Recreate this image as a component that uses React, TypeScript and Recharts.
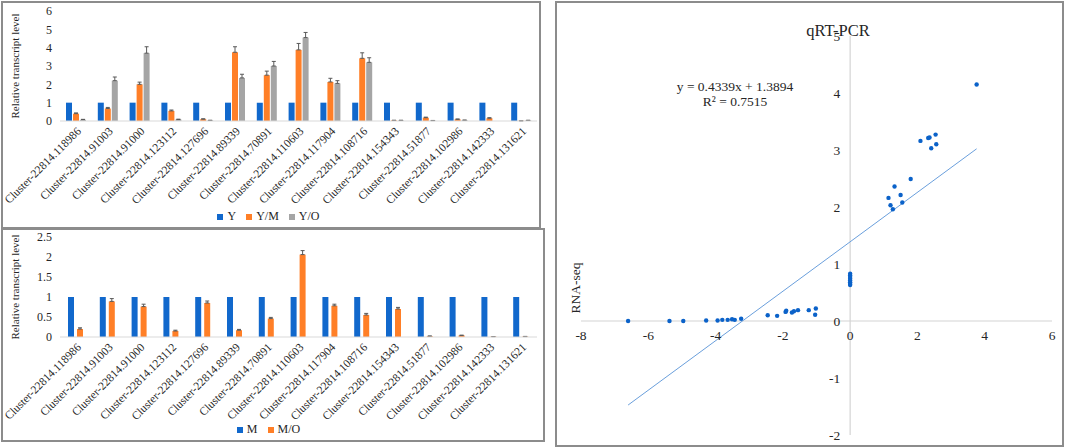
import React from 'react'
import {
  BarChart,
  Bar,
  XAxis,
  YAxis,
  ErrorBar,
  Legend,
  ScatterChart,
  Scatter,
  ReferenceLine,
  ReferenceDot,
} from 'recharts'

const categories = [
  'Cluster-22814.118986',
  'Cluster-22814.91003',
  'Cluster-22814.91000',
  'Cluster-22814.123112',
  'Cluster-22814.127696',
  'Cluster-22814.89339',
  'Cluster-22814.70891',
  'Cluster-22814.110603',
  'Cluster-22814.117904',
  'Cluster-22814.108716',
  'Cluster-22814.154343',
  'Cluster-22814.51877',
  'Cluster-22814.102986',
  'Cluster-22814.142333',
  'Cluster-22814.131621',
]

// top panel: Y, Y/M, Y/O
const yLevels = [1, 1, 1, 1, 1, 1, 1, 1, 1, 1, 1, 1, 1, 1, 1]
const ymLevels = [0.4, 0.68, 2.0, 0.55, 0.1, 3.75, 2.5, 3.88, 2.13, 3.42, 0.03, 0.18, 0.09, 0.15, 0.01]
const ymErrors = [0.04, 0.06, 0.12, 0.05, 0.02, 0.3, 0.22, 0.35, 0.2, 0.3, 0.01, 0.03, 0.02, 0.03, 0]
const yoLevels = [0.07, 2.2, 3.7, 0.08, 0.03, 2.35, 3.0, 4.55, 2.05, 3.2, 0.03, 0.02, 0.04, 0, 0.03]
const yoErrors = [0.02, 0.2, 0.35, 0.02, 0.01, 0.2, 0.25, 0.28, 0.15, 0.25, 0.01, 0.01, 0.01, 0, 0.01]
const topTicks = [0, 1, 2, 3, 4, 5, 6]

// bottom panel: M, M/O
const mLevels = [1, 1, 1, 1, 1, 1, 1, 1, 1, 1, 1, 1, 1, 1, 1]
const moLevels = [0.2, 0.89, 0.76, 0.15, 0.85, 0.17, 0.46, 2.06, 0.78, 0.55, 0.7, 0.02, 0.04, 0.01, 0.01]
const moErrors = [0.03, 0.07, 0.06, 0.02, 0.05, 0.02, 0.03, 0.1, 0.04, 0.04, 0.04, 0.005, 0.005, 0, 0.005]
const bottomTicks = [0, 0.5, 1, 1.5, 2, 2.5]

// scatter: RNA-seq (x) vs qRT-PCR (y)
const rnaSeq = [
  -6.6, -5.37, -4.96, -4.28, -3.94, -3.8, -3.64, -3.51, -3.43, -3.24,
  -2.45, -2.17, -1.92, -1.9, -1.73, -1.67, -1.55, -1.23, -1.02, -1.04,
  0, 0, 0, 0, 0, 0, 0, 0,
  1.14, 1.2, 1.27, 1.32, 1.5, 1.55, 1.8, 2.09, 2.32, 2.36, 2.41, 2.54, 2.56, 3.76,
]
const qrtPcr = [
  0, 0, 0, 0.01, 0.01, 0.02, 0.02, 0.03, 0.02, 0.04,
  0.1, 0.09, 0.16, 0.18, 0.15, 0.17, 0.19, 0.19, 0.22, 0.11,
  0.83, 0.8, 0.77, 0.74, 0.71, 0.68, 0.65, 0.63,
  2.16, 2.03, 1.96, 2.36, 2.21, 2.08, 2.49, 3.16, 3.21, 3.22, 3.03, 3.27, 3.1, 4.15,
]
const xTicks = [-8, -6, -4, -2, 0, 2, 4, 6]
const yTicks = [-2, -1, 0, 1, 2, 3, 4, 5]
const slope = 0.4339
const intercept = 1.3894

const BLUE = '#1168cc'
const ORANGE = '#ff7f27'
const GRAY = '#a5a5a5'
const TEXT = '#262626'
const SERIF = '"Liberation Serif", "Times New Roman", Tinos, "DejaVu Serif", serif'

const topData = categories.map((name, i) => ({
  name,
  Y: yLevels[i],
  'Y/M': ymLevels[i],
  'Y/O': yoLevels[i],
  ymErr: [0, ymErrors[i]],
  yoErr: [0, yoErrors[i]],
}))

const bottomData = categories.map((name, i) => ({
  name,
  M: mLevels[i],
  'M/O': moLevels[i],
  moErr: [0, moErrors[i]],
}))

const points = rnaSeq.map((x, i) => ({ x, y: qrtPcr[i] }))
const trendStart = rnaSeq[0]
const trendEnd = rnaSeq[rnaSeq.length - 1]

function CategoryTick({ x, y, payload }: any) {
  return (
    <g transform={`translate(${x + 3},${y})`}>
      <text
        textAnchor="end"
        transform="rotate(-45)"
        dy="0.35em"
        fontSize={11.5}
        fontFamily={SERIF}
        fill={TEXT}
      >
        {payload.value}
      </text>
    </g>
  )
}

const Dot = (p: any) => <circle cx={p.cx} cy={p.cy} r={2.2} fill="#0b62c9" />

const legendText = (value: string) => <span style={{ color: TEXT, fontFamily: SERIF }}>{value}</span>

const yTitle = {
  value: 'Relative transcript level',
  angle: -90,
  position: 'insideLeft' as const,
  offset: 5,
  fontSize: 11,
  fontFamily: SERIF,
  fill: TEXT,
  style: { textAnchor: 'middle' as const },
}

const valueTick = { fontSize: 12, fill: TEXT, fontFamily: SERIF }

function Box({ left, top, width, height }: { left: number; top: number; width: number; height: number }) {
  return (
    <div
      style={{
        position: 'absolute',
        left,
        top,
        width,
        height,
        boxSizing: 'border-box',
        border: '2px solid #8c8c8c',
      }}
    />
  )
}

function Note({ left, top, size, children, rotate }: any) {
  return (
    <div
      style={{
        position: 'absolute',
        left,
        top,
        fontSize: size,
        fontFamily: SERIF,
        color: TEXT,
        whiteSpace: 'nowrap',
        lineHeight: 1,
        transform: `translate(-50%, -50%)${rotate ? ` rotate(${rotate}deg)` : ''}`,
      }}
    >
      {children}
    </div>
  )
}

export default function App() {
  return (
    <div
      style={{
        position: 'absolute',
        left: 0,
        top: 0,
        width: 1065,
        height: 448,
        background: '#fff',
        fontFamily: SERIF,
      }}
    >
      <Box left={1} top={1} width={540} height={228} />
      <Box left={1} top={228} width={544} height={214} />
      <Box left={555} top={1} width={509} height={446} />

      <div style={{ position: 'absolute', left: 2, top: 2 }}>
        <BarChart
          width={538}
          height={225}
          data={topData}
          margin={{ top: 9, right: 3, bottom: 3, left: 8 }}
          barSize={6}
          barGap={1}
        >
          <XAxis
            dataKey="name"
            interval={0}
            tickLine={false}
            axisLine={{ stroke: '#d9d9d9' }}
            height={88}
            tick={<CategoryTick />}
          />
          <YAxis
            width={50}
            domain={[0, 6]}
            ticks={topTicks}
            interval={0}
            axisLine={false}
            tickLine={false}
            tick={valueTick}
            label={yTitle}
          />
          <Legend
            verticalAlign="bottom"
            iconType="square"
            iconSize={6}
            wrapperStyle={{ fontSize: 12, fontFamily: SERIF }}
            formatter={legendText}
          />
          <Bar dataKey="Y" name="Y" fill={BLUE} isAnimationActive={false} />
          <Bar dataKey="Y/M" name="Y/M" fill={ORANGE} isAnimationActive={false}>
            <ErrorBar dataKey="ymErr" width={2} stroke="#595959" strokeWidth={1} direction="y" />
          </Bar>
          <Bar dataKey="Y/O" name="Y/O" fill={GRAY} isAnimationActive={false}>
            <ErrorBar dataKey="yoErr" width={2} stroke="#595959" strokeWidth={1} direction="y" />
          </Bar>
        </BarChart>
      </div>

      <div style={{ position: 'absolute', left: 2, top: 229 }}>
        <BarChart
          width={542}
          height={212}
          data={bottomData}
          margin={{ top: 8, right: 7, bottom: 4, left: 8 }}
          barSize={6}
          barGap={3}
        >
          <XAxis
            dataKey="name"
            interval={0}
            tickLine={false}
            axisLine={{ stroke: '#d9d9d9' }}
            height={85}
            tick={<CategoryTick />}
          />
          <YAxis
            width={50}
            domain={[0, 2.5]}
            ticks={bottomTicks}
            interval={0}
            axisLine={false}
            tickLine={false}
            tick={valueTick}
            label={yTitle}
          />
          <Legend
            verticalAlign="bottom"
            iconType="square"
            iconSize={6}
            wrapperStyle={{ fontSize: 12, fontFamily: SERIF }}
            formatter={legendText}
          />
          <Bar dataKey="M" name="M" fill={BLUE} isAnimationActive={false} />
          <Bar dataKey="M/O" name="M/O" fill={ORANGE} isAnimationActive={false}>
            <ErrorBar dataKey="moErr" width={2} stroke="#595959" strokeWidth={1} direction="y" />
          </Bar>
        </BarChart>
      </div>

      <div style={{ position: 'absolute', left: 556, top: 2 }}>
        <ScatterChart width={507} height={444} margin={{ top: 34, right: 11, bottom: 11, left: 25 }}>
          <XAxis type="number" dataKey="x" domain={[-8, 6]} ticks={xTicks} hide />
          <YAxis type="number" dataKey="y" domain={[-2, 5]} ticks={yTicks} hide />
          <ReferenceLine x={0} stroke="#d4d4d4" strokeWidth={1.2} />
          <ReferenceLine y={0} stroke="#d4d4d4" strokeWidth={1.2} />
          <ReferenceLine
            segment={[
              { x: trendStart, y: slope * trendStart + intercept },
              { x: trendEnd, y: slope * trendEnd + intercept },
            ]}
            stroke="#6a9fdc"
            strokeWidth={1}
          />
          {xTicks.map((t) => (
            <ReferenceDot
              key={`x${t}`}
              x={t}
              y={0}
              r={0}
              fill="none"
              stroke="none"
              label={{ value: String(t), position: 'bottom', offset: 9, fontSize: 13.5, fontFamily: SERIF, fill: TEXT }}
            />
          ))}
          {yTicks.map((t) => (
            <ReferenceDot
              key={`y${t}`}
              x={0}
              y={t}
              r={0}
              fill="none"
              stroke="none"
              label={{ value: String(t), position: 'left', offset: 10, fontSize: 13.5, fontFamily: SERIF, fill: TEXT }}
            />
          ))}
          <Scatter data={points} shape={Dot} isAnimationActive={false} />
        </ScatterChart>
      </div>

      <Note left={838} top={31} size={16.5}>qRT-PCR</Note>
      <Note left={735} top={87} size={13.5}>y = 0.4339x + 1.3894</Note>
      <Note left={735} top={102} size={13.5}>R² = 0.7515</Note>
      <Note left={576} top={288} size={13.5} rotate={-90}>RNA-seq</Note>
    </div>
  )
}
